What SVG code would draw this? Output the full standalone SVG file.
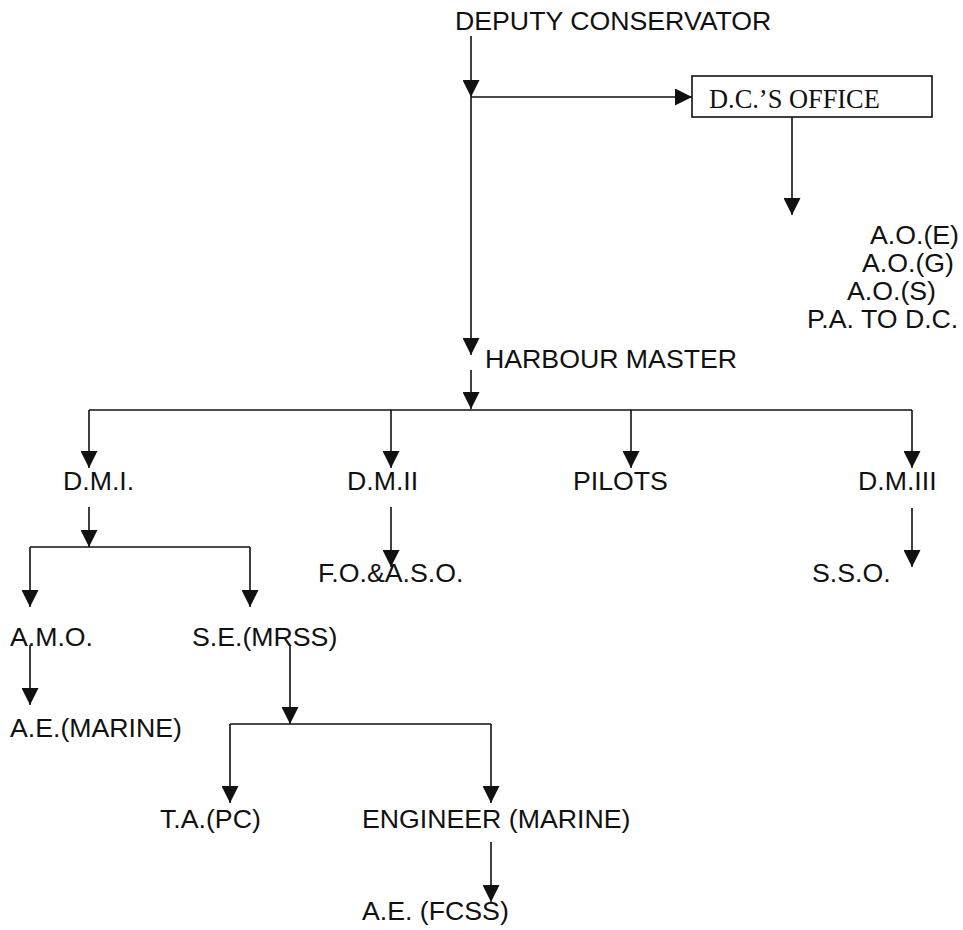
<svg xmlns="http://www.w3.org/2000/svg" width="963" height="930" viewBox="0 0 963 930">
<defs>
<marker id="arr" viewBox="0 0 16 17" refX="17" refY="8.5" markerWidth="16" markerHeight="17" markerUnits="userSpaceOnUse" orient="auto">
<path d="M0,0 L17,8.5 L0,17 z" fill="#111"/>
</marker>
<style>
.t{font-family:"Liberation Sans",Arial,sans-serif;font-size:26.7px;fill:#111}
.s{font-family:"Liberation Serif","Times New Roman",serif;font-size:26.4px;fill:#111}
.c{fill:none;stroke:#111;stroke-width:1.6}
.a{marker-end:url(#arr)}
</style>
</defs>
<rect width="963" height="930" fill="#fff"/>
<g id="connectors">
<path class="c a" d="M471,36 V97"/>
<path class="c a" d="M471,97 V355"/>
<path class="c a" d="M471,97 H692"/>
<path class="c a" d="M792,117 V215"/>
<path class="c a" d="M471,370 V409"/>
<path class="c" d="M89,410 H912"/>
<path class="c a" d="M89,410 V468"/>
<path class="c a" d="M391,410 V468"/>
<path class="c a" d="M631,410 V468"/>
<path class="c a" d="M912,410 V468"/>
<path class="c a" d="M89,507 V547"/>
<path class="c" d="M30,547 H250"/>
<path class="c a" d="M30,547 V607"/>
<path class="c a" d="M250,547 V607"/>
<path class="c a" d="M391,507 V567"/>
<path class="c a" d="M912,508 V567"/>
<path class="c a" d="M30,645 V705"/>
<path class="c a" d="M290,645 V724"/>
<path class="c" d="M230,724 H491"/>
<path class="c a" d="M230,724 V803"/>
<path class="c a" d="M491,724 V803"/>
<path class="c a" d="M491,842 V902"/>
</g>
<g id="deputy"><text class="t" x="455" y="30">DEPUTY CONSERVATOR</text></g>
<g id="dcoffice"><rect x="692" y="76" width="240" height="41" fill="#fff" stroke="#111" stroke-width="1.6"/><text class="s" x="709" y="108">D.C.’S OFFICE</text></g>
<g id="staff">
<text class="t" x="870" y="244">A.O.(E)</text>
<text class="t" x="862" y="272">A.O.(G)</text>
<text class="t" x="847" y="300">A.O.(S)</text>
<text class="t" x="807" y="328">P.A. TO D.C.</text>
</g>
<g id="harbour"><text class="t" x="485" y="368">HARBOUR MASTER</text></g>
<g id="dm1"><text class="t" x="63" y="490">D.M.I.</text></g>
<g id="dm2"><text class="t" x="347" y="490">D.M.II</text></g>
<g id="pilots"><text class="t" x="573" y="490">PILOTS</text></g>
<g id="dm3"><text class="t" x="858" y="490">D.M.III</text></g>
<g id="foaso"><text class="t" x="318" y="582">F.O.&amp;A.S.O.</text></g>
<g id="sso"><text class="t" x="812" y="582">S.S.O.</text></g>
<g id="amo"><text class="t" x="10" y="646">A.M.O.</text></g>
<g id="semrss"><text class="t" x="192" y="646">S.E.(MRSS)</text></g>
<g id="aemarine"><text class="t" x="10" y="737">A.E.(MARINE)</text></g>
<g id="tapc"><text class="t" x="160" y="828">T.A.(PC)</text></g>
<g id="engmarine"><text class="t" x="362" y="828">ENGINEER (MARINE)</text></g>
<g id="aefcss"><text class="t" x="362" y="920">A.E. (FCSS)</text></g>
</svg>
